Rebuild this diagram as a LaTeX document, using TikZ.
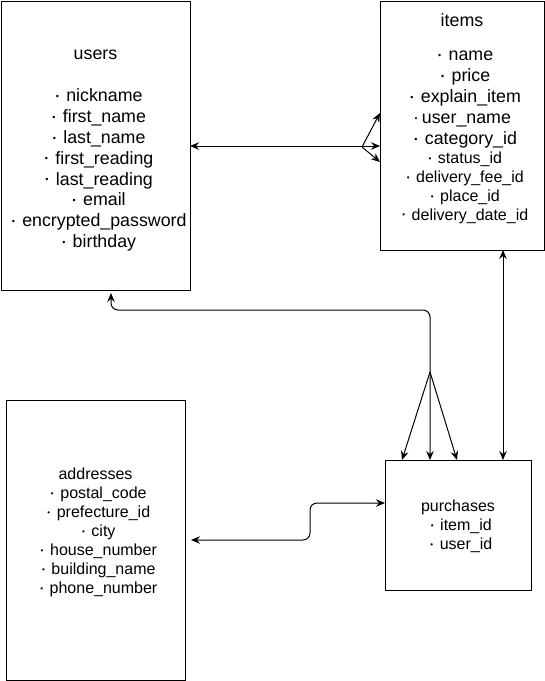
\documentclass[tikz,border=0pt]{standalone}
\usepackage{graphicx}
\usepackage{fontspec}
\setmainfont{Liberation Sans}
\usetikzlibrary{arrows.meta}
\newcommand{\bul}{\makebox[1em]{\raisebox{0.14em}{\scalebox{0.5}{•}}}}
\newcommand{\smallfs}{\fontsize{16}{19}\selectfont}
\begin{document}
\begin{tikzpicture}[x=1pt,y=-1pt,
  >={Stealth[length=9pt,width=7.5pt,inset=3pt]},
  box/.style={draw=black, line width=1pt, inner sep=0pt, outer sep=0pt},
  bigtext/.style={anchor=north, align=center, inner sep=0pt, font=\fontsize{17.8}{20.8}\selectfont},
  smalltext/.style={anchor=north, align=center, inner sep=0pt, font=\smallfs},
  conn/.style={line width=1pt, black},
  roundconn/.style={conn, rounded corners=7pt}]
\useasboundingbox (0,0) rectangle (545,681);
\fill[white] (0,0) rectangle (545,681);

% boxes
\node[box, minimum width=189pt, minimum height=289pt] (users) at (95.5,145.5) {};
\node[box, minimum width=164pt, minimum height=249pt] (items) at (462,125.5) {};
\node[box, minimum width=179pt, minimum height=280pt] (addresses) at (95.5,540) {};
\node[box, minimum width=146pt, minimum height=130pt] (purchases) at (458,525) {};

% texts
\node[bigtext] (usersT) at (95.5,44.9) {\rule{0pt}{14pt}users\\[22pt]\bul nickname\\\bul first\_name\\\bul last\_name\\\bul first\_reading\\\bul last\_reading\\\bul email\\\bul encrypted\_password\\\bul birthday};
\node[bigtext] (itemsT) at (462,12.5) {\rule{0pt}{14pt}items\\[13pt]\bul name\\[0.3pt]\bul price\\[0.3pt]\bul explain\_item\\[0.3pt]·\,user\_name\\[0.3pt]\bul category\_id\\[-2pt]{\smallfs\bul status\_id}\\[-2pt]{\smallfs\bul delivery\_fee\_id}\\[-2pt]{\smallfs\bul place\_id}\\[-2pt]{\smallfs\bul delivery\_date\_id}};
\node[smalltext] (addrT) at (95.5,467.5) {\rule{0pt}{12pt}addresses\\\bul postal\_code\\\bul prefecture\_id\\\bul city\\\bul house\_number\\\bul building\_name\\\bul phone\_number};
\node[smalltext] (purchT) at (458,499.5) {\rule{0pt}{12pt}purchases\\\bul item\_id\\\bul user\_id};

% users <-> items
\coordinate (ya) at (0,146);
\draw[conn,<->] (users.east |- ya) -- (items.west |- ya);
\coordinate (fa) at (362,147);
\coordinate (fa1) at (0,113);
\coordinate (fa2) at (0,162);
\draw[conn,->] (fa) -- (items.west |- fa1);
\draw[conn,->] (fa) -- (items.west |- fa2);

% users <-> purchases
\coordinate (b1) at (111,0);
\coordinate (b2) at (430,310);
\draw[roundconn,<->,shorten <=3pt] (users.south -| b1) |- (b2) -- (purchases.north -| b2);
\coordinate (fb) at (430,372);
\coordinate (fb1) at (402,0);
\coordinate (fb2) at (457,0);
\draw[conn,->] (fb) -- (purchases.north -| fb1);
\draw[conn,->] (fb) -- (purchases.north -| fb2);

% items <-> purchases
\coordinate (c1) at (503,0);
\draw[conn,<->] (items.south -| c1) -- (purchases.north -| c1);

% addresses <-> purchases
\coordinate (d1) at (310,540);
\coordinate (d2) at (310,503);
\draw[roundconn,<->,shorten <=6pt] (addresses.east |- d1) -- (d1) -- (d2) -- (purchases.west |- d2);
\end{tikzpicture}
\end{document}
